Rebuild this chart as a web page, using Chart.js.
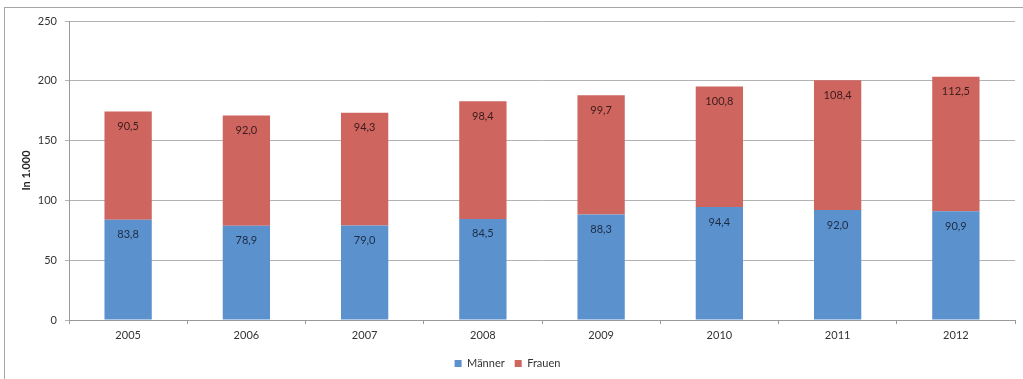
<!DOCTYPE html>
<html>
<head>
<meta charset="utf-8">
<script src="https://cdn.jsdelivr.net/npm/chart.js@4/dist/chart.umd.min.js"></script>
<style>
    html, body { margin: 0; padding: 0; background: #fff; overflow: hidden; }
    #wrap { position: relative; width: 1023px; height: 379px; }
    #frame { position: absolute; left: 4px; top: 7px; width: 1040px; height: 400px; border: 1px solid #a6a6a6; pointer-events: none; }
</style>
</head>
<body>
<div id="wrap">
    <canvas id="employmentChart" width="1023" height="379"></canvas>
    <div id="frame"></div>
</div>
<script>
const years = ['2005', '2006', '2007', '2008', '2009', '2010', '2011', '2012'];
const maenner = [83.8, 78.9, 79.0, 84.5, 88.3, 94.4, 92.0, 90.9];
const frauen = [90.5, 92.0, 94.3, 98.4, 99.7, 100.8, 108.4, 112.5];
const yTicks = [0, 50, 100, 150, 200, 250];

Chart.defaults.font.family = 'Lato, "Open Sans", sans-serif';
Chart.defaults.font.size = 11;
Chart.defaults.color = '#333';

// values written just below the top of each stacked segment
const segmentLabels = {
    id: 'segmentLabels',
    afterDatasetsDraw(chart, args, opts) {
        const ctx = chart.ctx;
        ctx.save();
        ctx.font = '11px Lato, "Open Sans", sans-serif';
        ctx.textAlign = 'center';
        ctx.textBaseline = 'middle';
        chart.data.datasets.forEach((ds, i) => {
            const meta = chart.getDatasetMeta(i);
            ctx.fillStyle = opts.colors[i];
            meta.data.forEach((bar, j) => {
                const text = ds.data[j].toFixed(1).replace('.', ',');
                ctx.fillText(text, bar.x, bar.y + opts.offset);
            });
        });
        ctx.restore();
    }
};

new Chart(
    document.getElementById('employmentChart'),
    {
        type: 'bar',
        data: {
            labels: years,
            datasets: [{
                label: 'Männer',
                data: maenner,
                backgroundColor: '#5b91cd',
                barPercentage: 0.8,
                categoryPercentage: 0.5
            },
            {
                label: 'Frauen',
                data: frauen,
                backgroundColor: '#cf655f',
                barPercentage: 0.8,
                categoryPercentage: 0.5
            }]
        },
        options: {
            responsive: false,
            animation: false,
            layout: {
                padding: { top: 21, right: 8, bottom: 0, left: 0 }
            },
            scales: {
                x: {
                    stacked: true,
                    grid: {
                        drawOnChartArea: false,
                        tickLength: 4,
                        color: '#999'
                    },
                    border: { color: '#999' },
                    ticks: { padding: 5, color: '#333' },
                    afterFit: (scale) => { scale.height = 28; }
                },
                y: {
                    stacked: true,
                    min: 0,
                    max: 250,
                    afterBuildTicks: (scale) => {
                        scale.ticks = yTicks.map(v => ({ value: v }));
                    },
                    grid: {
                        color: '#b3b3b3',
                        tickLength: 4
                    },
                    border: { color: '#999' },
                    ticks: { padding: 8, color: '#333' },
                    title: {
                        display: true,
                        text: 'In 1.000',
                        font: { weight: 'bold', size: 11 },
                        color: '#222',
                        padding: { top: 20, bottom: 0 }
                    },
                    afterFit: (scale) => { scale.width = 69; }
                }
            },
            plugins: {
                legend: {
                    position: 'bottom',
                    labels: {
                        boxWidth: 7,
                        boxHeight: 7,
                        padding: 10,
                        color: '#333'
                    }
                },
                tooltip: { enabled: false },
                segmentLabels: {
                    offset: 15,
                    colors: ['#1d2c45', '#3a1c1c']
                }
            }
        },
        plugins: [segmentLabels]
    }
);
</script>
</body>
</html>
